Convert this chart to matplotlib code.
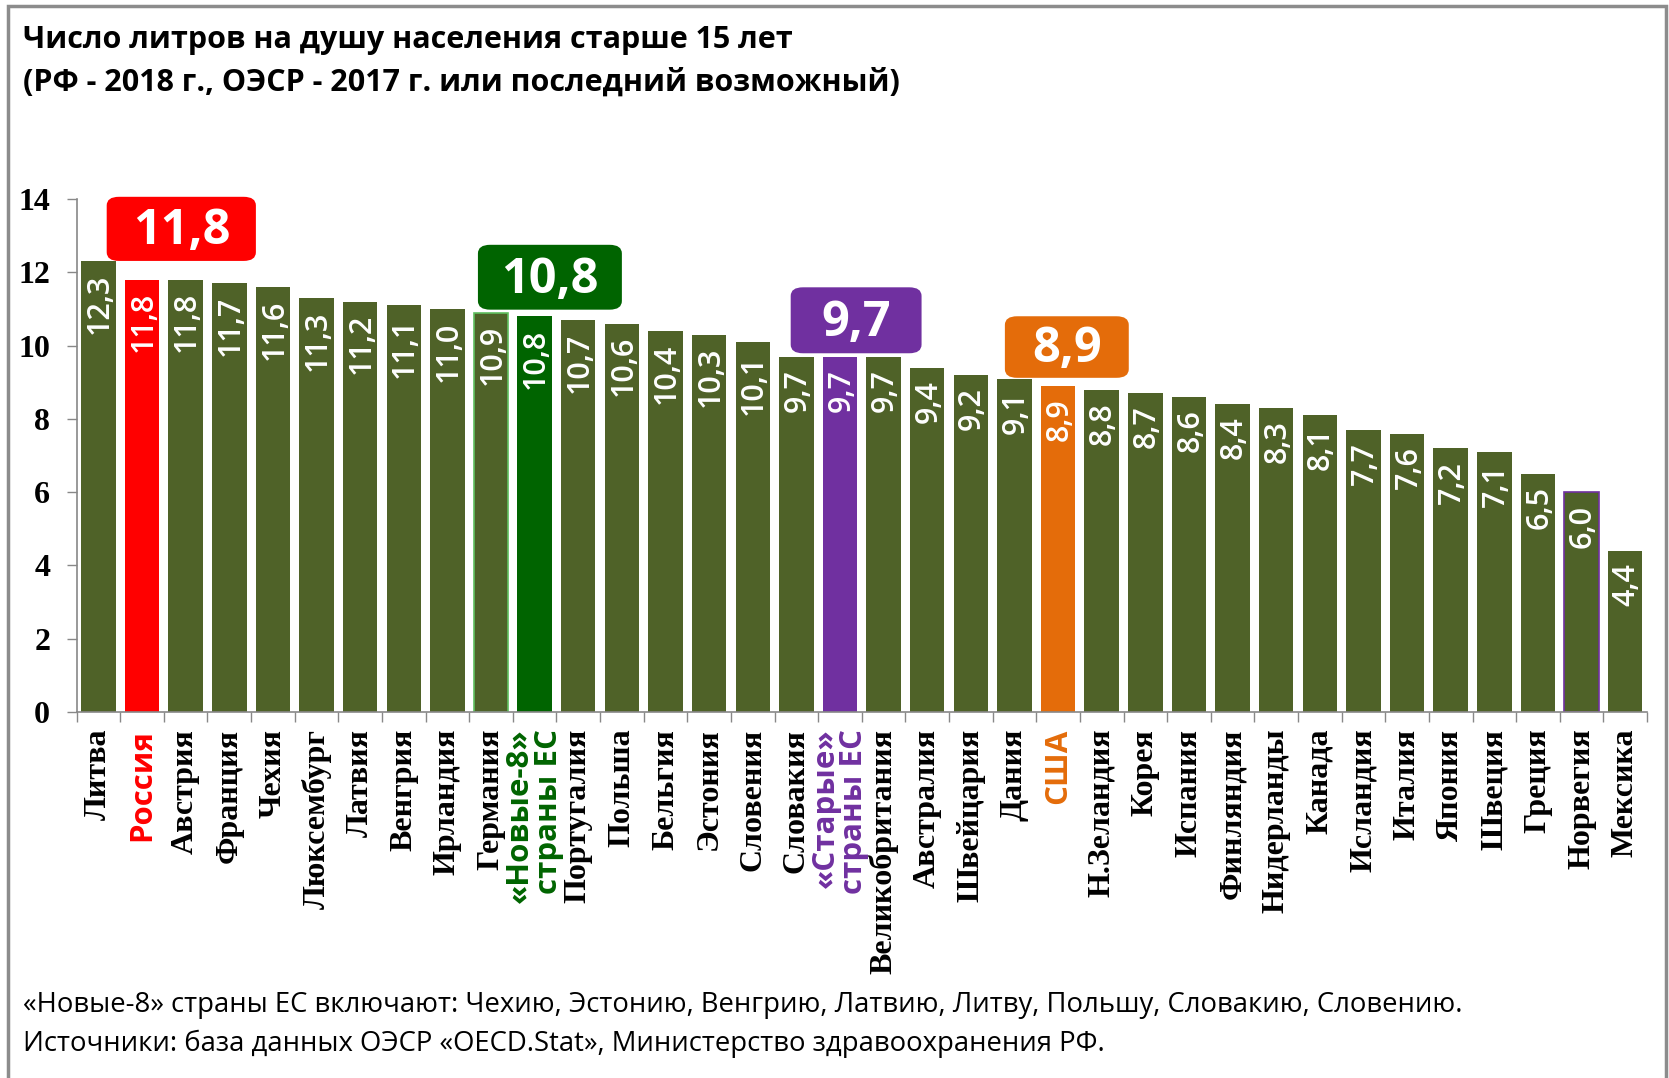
import matplotlib
matplotlib.use("Agg")
import matplotlib.pyplot as plt
from matplotlib.patches import FancyBboxPatch, Rectangle

# =============================
# DATA
# =============================

COUNTRIES = [
    "Литва", "Россия", "Австрия", "Франция", "Чехия", "Люксембург",
    "Латвия", "Венгрия", "Ирландия", "Германия", "«Новые-8»\nстраны ЕС",
    "Португалия", "Польша", "Бельгия", "Эстония", "Словения", "Словакия",
    "«Старые»\nстраны ЕС", "Великобритания", "Австралия", "Швейцария",
    "Дания", "США", "Н.Зеландия", "Корея", "Испания", "Финляндия",
    "Нидерланды", "Канада", "Исландия", "Италия", "Япония", "Швеция",
    "Греция", "Норвегия", "Мексика",
]

LITRES = [
    12.3, 11.8, 11.8, 11.7, 11.6, 11.3, 11.2, 11.1, 11.0, 10.9, 10.8,
    10.7, 10.6, 10.4, 10.3, 10.1, 9.7, 9.7, 9.7, 9.4, 9.2, 9.1, 8.9,
    8.8, 8.7, 8.6, 8.4, 8.3, 8.1, 7.7, 7.6, 7.2, 7.1, 6.5, 6.0, 4.4,
]

Y_TICKS = [0, 2, 4, 6, 8, 10, 12, 14]

TITLE_1 = "Число литров на душу населения старше 15 лет"
TITLE_2 = "(РФ - 2018 г., ОЭСР - 2017 г. или последний возможный)"
NOTE_1 = ("«Новые-8» страны ЕС включают: Чехию, Эстонию, Венгрию, Латвию, "
          "Литву, Польшу, Словакию, Словению.")
NOTE_2 = "Источники: база данных ОЭСР «OECD.Stat», Министерство здравоохранения РФ."

# =============================
# STYLE
# =============================

BAR_COLOR = "#4F6228"

# highlighted bars: country -> colour
HIGHLIGHT = {
    "Россия": "#FF0000",
    "«Новые-8»\nстраны ЕС": "#006400",
    "«Старые»\nстраны ЕС": "#7030A0",
    "США": "#E46C0A",
}

# thin outlines seen on a couple of bars
EDGES = {
    "Германия": "#5FBF5F",
    "Норвегия": "#7030A0",
}

# callout box placement: country -> (x shift, width, gap above bar, height)
CALLOUTS = {
    "Россия": (0.90, 3.42, 0.51, 1.75),
    "«Новые-8»\nстраны ЕС": (0.35, 3.30, 0.18, 1.77),
    "«Старые»\nстраны ЕС": (0.37, 3.00, 0.09, 1.80),
    "США": (0.20, 2.84, 0.22, 1.68),
}

SANS = "Open Sans"
SERIF = "Liberation Serif"

W, H = 1669, 1078


def main():
    fig = plt.figure(figsize=(W / 100, H / 100), dpi=100)
    ax = fig.add_axes([76.6 / W, 1 - 712 / H, (1647 - 76.6) / W, (712 - 199) / H])

    n = len(COUNTRIES)
    x = list(range(n))
    colors = [HIGHLIGHT.get(c, BAR_COLOR) for c in COUNTRIES]
    edges = [EDGES.get(c, "none") for c in COUNTRIES]

    ax.bar(x, LITRES, width=0.79, color=colors, edgecolor=edges, linewidth=1.2, zorder=2)

    # value labels inside the bars
    for xi, v in zip(x, LITRES):
        ax.annotate(
            f"{v:.1f}".replace(".", ","),
            (xi, v),
            xytext=(1, -9),
            textcoords="offset points",
            rotation=90,
            ha="center",
            va="top",
            color="white",
            fontsize=22,
            fontweight="semibold",
            family=SANS,
            zorder=3,
        )

    # callout boxes
    for country, (dx, bw, gap, bh) in CALLOUTS.items():
        i = COUNTRIES.index(country)
        v = LITRES[i]
        cx = i + dx
        box = FancyBboxPatch(
            (cx - bw / 2, v + gap),
            bw,
            bh,
            boxstyle="round,pad=0,rounding_size=0.28",
            mutation_aspect=1.0 / 1.19,
            facecolor=HIGHLIGHT[country],
            edgecolor="none",
            clip_on=False,
            zorder=4,
        )
        ax.add_patch(box)
        ax.text(
            cx,
            v + gap + bh / 2 - 0.08,
            f"{v:.1f}".replace(".", ","),
            ha="center",
            va="center",
            color="white",
            fontsize=35,
            fontweight="bold",
            family=SANS,
            zorder=5,
            clip_on=False,
        )

    ax.set_xlim(-0.5, n - 0.5)
    ax.set_ylim(0, 14)

    ax.set_yticks(Y_TICKS)
    ax.set_yticklabels([str(t) for t in Y_TICKS], fontsize=23, fontweight="bold", family=SERIF)
    ax.tick_params(axis="y", length=7, width=1, color="#888888", pad=12)

    ax.set_xticks(x)
    ax.set_xticklabels(COUNTRIES, rotation=90, fontsize=23, fontweight="bold", family=SERIF)
    ax.set_xticks([k - 0.5 for k in range(n + 1)], minor=True)
    ax.tick_params(axis="x", which="major", length=0, pad=12)
    ax.tick_params(axis="x", which="minor", length=7, width=1, color="#888888")

    for lbl in ax.get_xticklabels():
        txt = lbl.get_text()
        if txt in HIGHLIGHT:
            lbl.set_color(HIGHLIGHT[txt])
            lbl.set_family(SANS)
            lbl.set_fontsize(22.5)
            lbl.set_multialignment("right")
            lbl.set_linespacing(0.95)

    for side in ("top", "right"):
        ax.spines[side].set_visible(False)
    for side in ("left", "bottom"):
        ax.spines[side].set_color("#888888")
        ax.spines[side].set_linewidth(1.2)

    # titles and notes
    fig.text(23 / W, 1 - 40 / H, TITLE_1, fontsize=22, fontweight="bold",
             family=SANS, va="center", ha="left")
    fig.text(23 / W, 1 - 83 / H, TITLE_2, fontsize=22, fontweight="bold",
             family=SANS, va="center", ha="left")
    fig.text(23 / W, 1 - 1005 / H, NOTE_1, fontsize=19.8, family=SANS,
             va="center", ha="left")
    fig.text(23 / W, 1 - 1044 / H, NOTE_2, fontsize=19.8, family=SANS,
             va="center", ha="left")

    # outer grey frame (open at the bottom)
    fig.patches.append(Rectangle((8 / W, -0.05), (1666 - 8) / W, 1.05 - 6 / H,
                                 transform=fig.transFigure, fill=False,
                                 edgecolor="#8C8C8C", linewidth=2.5))

    fig.savefig("out.png", dpi=100)
    plt.close(fig)


if __name__ == "__main__":
    main()
